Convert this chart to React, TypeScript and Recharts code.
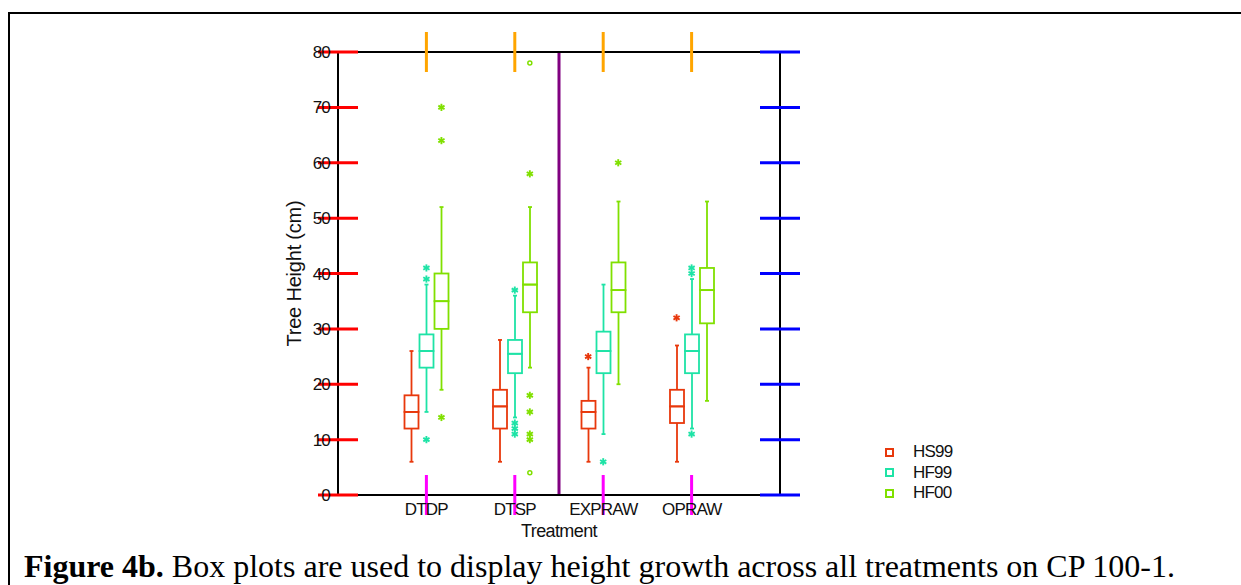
import React from 'react'
import {
  ComposedChart, Bar, Scatter, XAxis, YAxis, Legend, ReferenceLine,
} from 'recharts'

const treatments = ['DTDP', 'DTSP', 'EXPRAW', 'OPRAW']
const seriesNames = ['HS99', 'HF99', 'HF00']
const yTicks = [0, 10, 20, 30, 40, 50, 60, 70, 80]

// [lower whisker, q1, median, q3, upper whisker] per treatment
const hs99Stats = [[6, 12, 15, 18, 26], [6, 12, 16, 19, 28], [6, 12, 15, 17, 23], [6, 13, 16, 19, 27]]
const hf99Stats = [[15, 23, 26, 29, 38], [14, 22, 25.5, 28, 36], [11, 22, 26, 29.5, 38], [12, 22, 26, 29, 39]]
const hf00Stats = [[19, 30, 35, 40, 52], [23, 33, 38, 42, 52], [20, 33, 37, 42, 53], [17, 31, 37, 41, 53]]

// [treatment index, value, far outlier (circle)]
const hs99Outliers: [number, number, boolean?][] = [[2, 25], [3, 32]]
const hf99Outliers: [number, number, boolean?][] = [
  [0, 41], [0, 39], [0, 10], [1, 37], [1, 13], [1, 12], [1, 11], [2, 6], [3, 41], [3, 40], [3, 11],
]
const hf00Outliers: [number, number, boolean?][] = [
  [0, 70], [0, 64], [0, 14], [1, 78, true], [1, 58], [1, 18], [1, 15], [1, 11], [1, 10], [1, 4, true], [2, 60],
]

const colors = ['#e8380c', '#1ee3a6', '#80e000']
const keys = ['hs', 'hf', 'hn']
const allStats = [hs99Stats, hf99Stats, hf00Stats]
const allOutliers = [hs99Outliers, hf99Outliers, hf00Outliers]
const groupOffset = [-0.17, 0, 0.17]

const data = treatments.map((name, i) => {
  const row: any = { name }
  keys.forEach((k, s) => {
    const [lo, q1, med, q3, hi] = allStats[s][i]
    row[`${k}_base`] = lo
    row[`${k}_lw`] = q1 - lo
    row[`${k}_lb`] = med - q1
    row[`${k}_ub`] = q3 - med
    row[`${k}_uw`] = hi - q3
  })
  return row
})

// inward tick marks on the four frame sides, placed by the axes' scales
const leftMarks = yTicks.map(v => ({ x: 0, y: v }))
const rightMarks = yTicks.map(v => ({ x: 5, y: v }))
const bottomMarks = treatments.map((_, i) => ({ x: i + 1, y: 0 }))
const topMarks = treatments.map((_, i) => ({ x: i + 1, y: 80 }))

const font = '"Liberation Sans", Arial, sans-serif'
const TICK = 13

const Whisker = (color: string, capAtTop: boolean) => (p: any) => {
  const cx = p.x + p.width / 2
  const capY = capAtTop ? p.y : p.y + p.height
  return (
    <g stroke={color} strokeWidth={1.8}>
      <line x1={cx} x2={cx} y1={p.y} y2={p.y + p.height} />
      <line x1={cx - 2} x2={cx + 2} y1={capY} y2={capY} />
    </g>
  )
}

const BoxPart = (color: string) => (p: any) => (
  <rect x={p.x + 0.5} y={p.y} width={p.width - 1} height={p.height}
    fill="none" stroke={color} strokeWidth={1.8} />
)

const Empty = () => <g />

const Outlier = (color: string) => (p: any) => {
  const { cx, cy, payload } = p
  if (payload.far) {
    return <circle cx={cx} cy={cy} r={2} fill="none" stroke={color} strokeWidth={1.5} />
  }
  const r = 3.6
  const dx = r * Math.cos(Math.PI / 6)
  const dy = r * Math.sin(Math.PI / 6)
  return (
    <g stroke={color} strokeWidth={1.9}>
      <line x1={cx} x2={cx} y1={cy - r} y2={cy + r} />
      <line x1={cx - dx} x2={cx + dx} y1={cy - dy} y2={cy + dy} />
      <line x1={cx - dx} x2={cx + dx} y1={cy + dy} y2={cy - dy} />
    </g>
  )
}

// debug colours to see which marks reach the picture
const Mark = (ddx: number, ddy: number, c: string) => (p: any) => (
  <path d={`M${p.cx - ddx},${p.cy - ddy}L${p.cx + ddx},${p.cy + ddy}`} stroke={c} strokeWidth={3} fill="none" />
)

const labelStyle = { fill: '#111', fontSize: 17, fontFamily: font, letterSpacing: -0.8 }

const LeftLabel = (p: any) => (
  <text x={p.x} y={p.y} dy="0.355em" textAnchor="end" style={labelStyle}>{p.payload.value}</text>
)
const BottomLabel = (p: any) => (
  <text x={p.x} y={p.y} dy="0.71em" textAnchor="middle" style={labelStyle}>{p.payload.value}</text>
)

const LegendBox = () => (
  <div style={{ fontFamily: font, fontSize: 17, letterSpacing: -0.8, color: '#111' }}>
    {seriesNames.map((n, i) => (
      <div key={n} style={{ display: 'flex', alignItems: 'center', height: 20.5 }}>
        <span style={{
          width: 5, height: 5, border: `2px solid ${colors[i]}`, marginRight: 19, marginLeft: 5,
        }} />
        <span>{n}</span>
      </div>
    ))}
  </div>
)

export default function App() {
  const axisLine = { stroke: '#000', strokeWidth: 2 }
  return (
    <div style={{ position: 'absolute', left: 0, top: 0, width: 1241, height: 585, background: '#fff' }}>
      <div style={{
        position: 'absolute', left: 8, top: 12, width: 1233, height: 573,
        borderTop: '2px solid #000', borderLeft: '2px solid #000', boxSizing: 'border-box',
      }} />
      <div style={{ position: 'absolute', left: 0, top: 0 }}>
        <ComposedChart width={1241} height={585} data={data}
          margin={{ top: 42, right: 451, bottom: 40, left: 278 }} barSize={15} barGap={0}>
          <XAxis dataKey="name" type="category" padding={{ left: 44, right: 44 }}
            height={50} axisLine={axisLine} tickLine={false} tickSize={0} tickMargin={8}
            tick={BottomLabel} interval={0}
            label={{ value: 'Treatment', position: 'insideBottom', offset: 8,
              style: { fill: '#111', fontSize: 18, fontFamily: font, letterSpacing: -0.6 } }} />
          <XAxis xAxisId="top" dataKey="name" type="category" orientation="top"
            padding={{ left: 44, right: 44 }} height={10} axisLine={axisLine} tickLine={false}
            tick={false} interval={0} />
          <XAxis xAxisId="num" dataKey="x" type="number" domain={[0, 5]} hide />
          <YAxis domain={[0, 80]} ticks={yTicks} width={60} axisLine={axisLine} tickLine={false}
            tickSize={0} tickMargin={8} tick={LeftLabel} interval={0}
            label={{ value: 'Tree Height (cm)', angle: -90, position: 'insideLeft', offset: 16,
              style: { textAnchor: 'middle', fill: '#111', fontSize: 20, fontFamily: font, letterSpacing: -0.2 } }} />
          <YAxis yAxisId="right" orientation="right" domain={[0, 80]} ticks={yTicks} width={10}
            axisLine={axisLine} tickLine={false} tick={false} interval={0} />
          {keys.map((k, s) => [
            <Bar key={`${k}b`} dataKey={`${k}_base`} stackId={k} shape={Empty} isAnimationActive={false} legendType="none" />,
            <Bar key={`${k}lw`} dataKey={`${k}_lw`} stackId={k} shape={Whisker(colors[s], false)} isAnimationActive={false} legendType="none" />,
            <Bar key={`${k}lb`} dataKey={`${k}_lb`} stackId={k} shape={BoxPart(colors[s])} isAnimationActive={false} legendType="none" />,
            <Bar key={`${k}ub`} dataKey={`${k}_ub`} stackId={k} shape={BoxPart(colors[s])} isAnimationActive={false} legendType="none" />,
            <Bar key={`${k}uw`} dataKey={`${k}_uw`} stackId={k} shape={Whisker(colors[s], true)} isAnimationActive={false} legendType="none" />,
          ])}
          {keys.map((k, s) => (
            <Scatter key={`${k}o`} xAxisId="num" name={seriesNames[s]}
              data={allOutliers[s].map(([t, v, far]) => ({ x: t + 1 + groupOffset[s], y: v, far: !!far }))}
              dataKey="y" shape={Outlier(colors[s])} isAnimationActive={false} />
          ))}
          <Scatter xAxisId="num" data={leftMarks} dataKey="y" shape={Mark(20, 0, 'red')} isAnimationActive={false} legendType="none" />
          <Scatter xAxisId="num" data={rightMarks} dataKey="y" shape={Mark(20, 0, 'blue')} isAnimationActive={false} legendType="none" />
          <Scatter xAxisId="num" data={bottomMarks} dataKey="y" shape={Mark(0, 20, 'magenta')} isAnimationActive={false} legendType="none" />
          <Scatter xAxisId="num" data={topMarks} dataKey="y" shape={Mark(0, 20, 'orange')} isAnimationActive={false} legendType="none" />
          <ReferenceLine xAxisId="num" x={2.5} stroke="purple" strokeWidth={3} />
          <Legend layout="vertical" align="center" verticalAlign="middle" content={<LegendBox />}
            wrapperStyle={{ left: 880, top: 442, width: 100, height: 62 }} />
        </ComposedChart>
      </div>
      <div style={{
        position: 'absolute', left: 24, top: 550, fontFamily: '"Liberation Serif", "Times New Roman", serif',
        fontSize: 32, lineHeight: 1, color: '#000', whiteSpace: 'nowrap',
      }}>
        <b>Figure 4b.</b> Box plots are used to display height growth across all treatments on CP 100-1.
      </div>
    </div>
  )
}
